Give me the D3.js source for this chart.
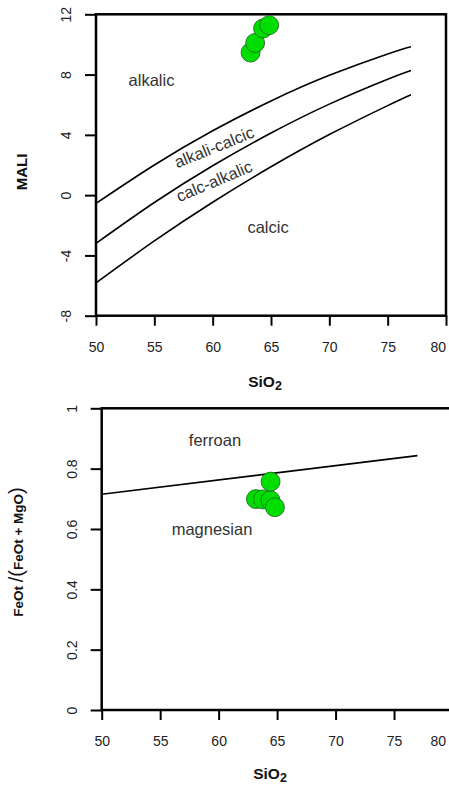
<!DOCTYPE html>
<html>
<head>
<meta charset="utf-8">
<script src="https://cdn.jsdelivr.net/npm/d3@7"></script>
<style>
    body { margin: 0; background: #fff; }
    svg { display: block; font-family: "Liberation Sans", Arial, sans-serif; }
</style>
</head>
<body>
<div id="vis"></div>
<script>
// boundary curves
const sio2Grid = [50, 55, 60, 65, 70, 75, 77]
const alkalicLine = [-0.55, 2.0, 4.27, 6.25, 7.95, 9.37, 9.85]
const alkaliCalcicLine = [-3.2, -0.49, 1.95, 4.12, 6.04, 7.69, 8.27]
const calcAlkalicLine = [-5.82, -3.04, -0.47, 1.88, 4.02, 5.94, 6.66]

// samples, top panel
const maliSio2 = [63.25, 63.64, 64.32, 64.84]
const maliValues = [9.46, 10.1, 11.06, 11.28]

// ferroan / magnesian divide
const feSio2Line = [50, 77]
const feRatioLine = [0.715, 0.843]

// samples, bottom panel
const feSio2 = [63.19, 63.79, 64.43, 64.44, 64.81]
const feRatio = [0.699, 0.698, 0.695, 0.757, 0.672]

const sio2Ticks = [50, 55, 60, 65, 70, 75, 80]
const maliTicks = [-8, -4, 0, 4, 8, 12]
const ratioTicks = [0, 0.2, 0.4, 0.6, 0.8, 1]

const W = 449, H = 785
const labelRight = 445.5

const svg = d3.select('#vis')
    .append('svg')
    .attr('width', W)
    .attr('height', H)

function drawAxes(g, x, y, xTicks, yTicks) {
    g.append('rect')
        .attr('x', x.range()[0])
        .attr('y', y.range()[1])
        .attr('width', x.range()[1] - x.range()[0])
        .attr('height', y.range()[0] - y.range()[1])
        .attr('fill', 'none')
        .attr('stroke', '#000')
        .attr('stroke-width', 2.5)

    let xa = g.append('g')
        .attr('transform', 'translate(0,' + y.range()[0] + ')')
        .call(d3.axisBottom(x).tickValues(xTicks).tickSize(10).tickFormat(d => String(d)))
    xa.select('.domain').remove()
    xa.selectAll('.tick line').attr('stroke-width', 2)
    xa.selectAll('.tick text')
        .attr('y', 36).attr('dy', 0)
        .attr('font-size', 14).attr('fill', '#222')
        .each(function (d) {
            let w = this.getComputedTextLength()
            if (x(d) + w / 2 > labelRight) {
                d3.select(this).attr('text-anchor', 'end').attr('x', labelRight - x(d))
            }
        })

    let ya = g.append('g')
        .attr('transform', 'translate(' + x.range()[0] + ',0)')
        .call(d3.axisLeft(y).tickValues(yTicks).tickSize(11).tickFormat(d => String(d)))
    ya.select('.domain').remove()
    ya.selectAll('.tick line').attr('stroke-width', 2)
    ya.selectAll('.tick text')
        .attr('transform', 'rotate(-90)')
        .attr('text-anchor', 'middle')
        .attr('x', 0).attr('y', -25).attr('dy', 0)
        .attr('font-size', 14).attr('fill', '#222')
    xa.attr('font-family', null)
    ya.attr('font-family', null)
}

function sio2Title(g, cx, cy) {
    let t = g.append('text')
        .attr('x', cx)
        .attr('y', cy)
        .attr('text-anchor', 'middle')
        .attr('font-weight', 'bold')
        .attr('font-size', 15.5)
        .attr('fill', '#111')
    t.append('tspan').text('SiO')
    t.append('tspan').attr('dy', 3).attr('font-size', 12.5).text('2')
}

function regionLabel(g, text, px, py, angle) {
    g.append('text')
        .attr('transform', 'translate(' + px + ',' + py + ') rotate(' + angle + ')')
        .attr('text-anchor', 'middle')
        .attr('dominant-baseline', 'central')
        .attr('font-size', 16.5)
        .attr('fill', '#333')
        .text(text)
}

// top panel: MALI vs SiO2
let maliPanel = svg.append('g')
let x1 = d3.scaleLinear().domain([50, 80]).range([96, 446])
let y1 = d3.scaleLinear().domain([-8, 12]).range([315.7, 14.3])

let curve = d3.line()
    .x(d => x1(d[0]))
    .y(d => y1(d[1]))
    .curve(d3.curveNatural)

;[alkalicLine, alkaliCalcicLine, calcAlkalicLine].forEach(vals => {
    maliPanel.append('path')
        .datum(sio2Grid.map((s, i) => [s, vals[i]]))
        .attr('d', curve)
        .attr('fill', 'none')
        .attr('stroke', '#000')
        .attr('stroke-width', 1.6)
})

drawAxes(maliPanel, x1, y1, sio2Ticks, maliTicks)

maliPanel.selectAll('.mali-pt')
    .data(maliSio2.map((s, i) => [s, maliValues[i]]))
    .enter()
    .append('circle')
    .attr('class', 'mali-pt')
    .attr('cx', d => x1(d[0]))
    .attr('cy', d => y1(d[1]))
    .attr('r', 9.5)
    .attr('fill', '#00dd00')
    .attr('stroke', '#1f5f1f')
    .attr('stroke-width', 0.8)

regionLabel(maliPanel, 'alkalic', 151.5, 80, 0)
regionLabel(maliPanel, 'alkali-calcic', 214, 147, -22)
regionLabel(maliPanel, 'calc-alkalic', 214, 181, -23)
regionLabel(maliPanel, 'calcic', 268, 227, 0)

maliPanel.append('text')
    .attr('transform', 'translate(27,172) rotate(-90)')
    .attr('text-anchor', 'middle')
    .attr('font-weight', 'bold')
    .attr('font-size', 15)
    .attr('fill', '#111')
    .text('MALI')

sio2Title(maliPanel, 265, 387)

// bottom panel: FeOt/(FeOt+MgO) vs SiO2
let fePanel = svg.append('g')
let x2 = d3.scaleLinear().domain([50, 80]).range([101.7, 452.5])
let y2 = d3.scaleLinear().domain([0, 1]).range([710, 408.3])

fePanel.append('path')
    .datum(feSio2Line.map((s, i) => [s, feRatioLine[i]]))
    .attr('d', d3.line().x(d => x2(d[0])).y(d => y2(d[1])))
    .attr('fill', 'none')
    .attr('stroke', '#000')
    .attr('stroke-width', 1.6)

drawAxes(fePanel, x2, y2, sio2Ticks, ratioTicks)

fePanel.selectAll('.fe-pt')
    .data(feSio2.map((s, i) => [s, feRatio[i]]))
    .enter()
    .append('circle')
    .attr('class', 'fe-pt')
    .attr('cx', d => x2(d[0]))
    .attr('cy', d => y2(d[1]))
    .attr('r', 9.5)
    .attr('fill', '#00dd00')
    .attr('stroke', '#1f5f1f')
    .attr('stroke-width', 0.8)

regionLabel(fePanel, 'ferroan', 215, 440, 0)
regionLabel(fePanel, 'magnesian', 212, 529, 0)

let yt = fePanel.append('text')
    .attr('transform', 'translate(23,552) rotate(-90)')
    .attr('text-anchor', 'middle')
    .attr('font-weight', 'bold')
    .attr('font-size', 13.5)
    .attr('fill', '#111')
yt.append('tspan').text('FeOt ')
yt.append('tspan').attr('font-size', 20).attr('font-weight', 'normal').text('/(')
yt.append('tspan').text('FeOt + MgO')
yt.append('tspan').attr('font-size', 20).attr('font-weight', 'normal').text(')')

sio2Title(fePanel, 270, 779)
</script>
</body>
</html>
